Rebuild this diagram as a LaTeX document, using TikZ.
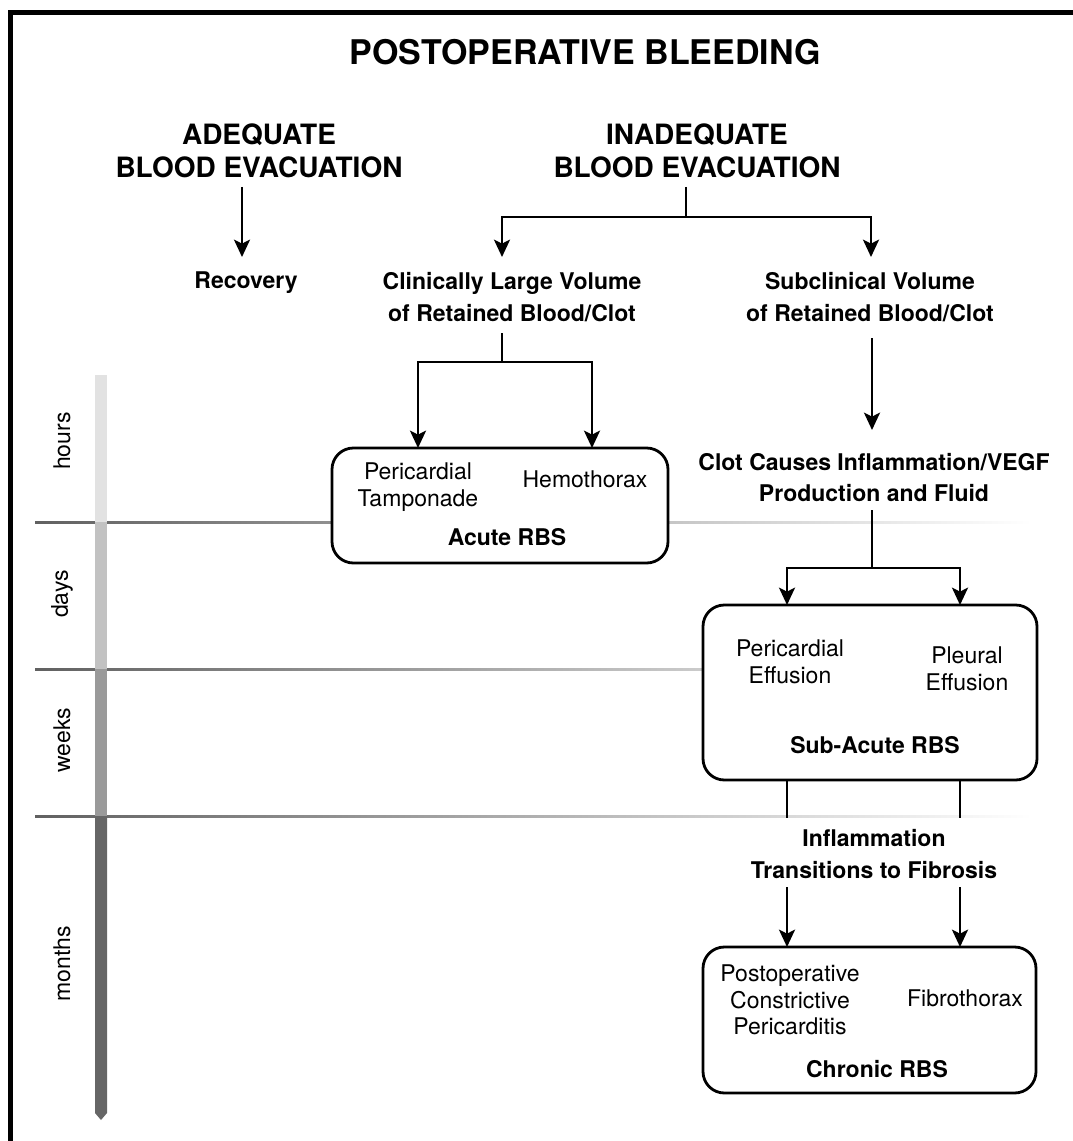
\documentclass[tikz,border=0pt]{standalone}
\usepackage{fontspec}
\setmainfont{TeX Gyre Heros}
\usetikzlibrary{arrows.meta}
\definecolor{tlA}{HTML}{E2E2E2}
\definecolor{tlB}{HTML}{C2C2C2}
\definecolor{tlC}{HTML}{9A9A9A}
\definecolor{tlD}{HTML}{666666}
\begin{document}
\begin{tikzpicture}[x=0.75pt,y=-0.75pt,
  ln/.style={line width=2.1pt},
  arr/.style={line width=2.1pt,-{Stealth[length=13pt,width=12pt,inset=3pt]}},
  rbox/.style={draw,line width=2.1pt,rounded corners=16pt,fill=white,inner sep=0pt},
  reg/.style={font=\fontsize{17.25}{20}\selectfont,align=center,inner sep=0pt},
  bsm/.style={font=\bfseries\fontsize{17.25}{23.5}\selectfont,align=center,inner sep=0pt},
  head/.style={font=\bfseries\fontsize{21}{24.75}\selectfont,align=center,inner sep=0pt},
  tl/.style={font=\fontsize{17.25}{20}\selectfont,rotate=90,inner sep=0pt},
  sep/.style={left color=black!62,right color=white}
]
\useasboundingbox (0,0) rectangle (1073,1141);
% frame (top and left only)
\fill[black] (8,10) rectangle (1073,15);
\fill[black] (8,10) rectangle (13,1141);

% time separators
\shade[sep] (35,521) rectangle (1032,523.4);
\shade[sep] (35,668) rectangle (1032,670.4);
\shade[sep] (35,815) rectangle (1032,817.4);

% timeline bar
\fill[tlA] (95,375) rectangle (107,522);
\fill[tlB] (95,522) rectangle (107,669);
\fill[tlC] (95,669) rectangle (107,816);
\fill[tlD] (95,816) -- (107,816) -- (107,1113) -- (101,1120) -- (95,1113) -- cycle;

\node[tl] (hours) at (62,441) {hours};
\node[tl] (days) at (62,594) {days};
\node[tl] (weeks) at (62,740) {weeks};
\node[tl] (months) at (62,964) {months};

% title and headings
\node[font=\bfseries\fontsize{25.5}{30}\selectfont,inner sep=0pt] (title) at (585,52) {POSTOPERATIVE BLEEDING};
\node[head] (adq) at (259,150.5) {ADEQUATE\\BLOOD EVACUATION};
\node[head] (inadq) at (697,150.5) {INADEQUATE\\BLOOD EVACUATION};
\node[bsm] (rec) at (246,283) {Recovery};
\node[bsm] (clin) at (512,297) {Clinically Large Volume\\of Retained Blood/Clot};
\node[bsm] (subc) at (870,297) {Subclinical Volume\\of Retained Blood/Clot};
\node[bsm] (clot) at (874,477.5) {Clot Causes Inflammation/VEGF\\Production and Fluid};
\node[bsm] (infl) at (874,854) {Inflammation\\Transitions to Fibrosis};

% boxes
\node[rbox,minimum width=252pt,minimum height=86.25pt] (acute) at (500,505.5) {};
\node[rbox,minimum width=250.5pt,minimum height=131.25pt] (subacute) at (870,692.5) {};
\node[rbox,minimum width=249.75pt,minimum height=109.5pt] (chronic) at (869.5,1020) {};

\node[reg] (tamp) at (418,487) {Pericardial\\Tamponade};
\node[reg] (hemo) at (585,479.5) {Hemothorax};
\node[bsm] (acl) at (507,537) {Acute RBS};
\node[reg] (pce) at (790,661.5) {Pericardial\\Effusion};
\node[reg] (ple) at (967,668.5) {Pleural\\Effusion};
\node[bsm] (sal) at (875,745.5) {Sub-Acute RBS};
\node[reg] (pcp) at (790,1000) {Postoperative\\Constrictive\\Pericarditis};
\node[reg] (fib) at (965,998.5) {Fibrothorax};
\node[bsm] (chl) at (877,1069) {Chronic RBS};

% connector points
\coordinate (adqo) at (242,187);
\coordinate (reci) at (242,257);
\coordinate (inao) at (686,187);
\coordinate (inaj) at (686,217);
\coordinate (clini) at (502,257);
\coordinate (subci) at (871,257);
\coordinate (clino) at (502,333);
\coordinate (clinj) at (502,362);
\coordinate (tampi) at (418,448);
\coordinate (hemoi) at (592,448);
\coordinate (subco) at (872,338);
\coordinate (cloti) at (872,430);
\coordinate (cloto) at (872,510);
\coordinate (clotj) at (872,568);
\coordinate (pcei) at (787,605);
\coordinate (plei) at (960,605);
\coordinate (pceo) at (787,780);
\coordinate (pleo) at (960,780);
\coordinate (infl1) at (787,818);
\coordinate (infl2) at (960,818);
\coordinate (inflo1) at (787,887);
\coordinate (inflo2) at (960,887);
\coordinate (pcpi) at (787,947);
\coordinate (fibi) at (960,947);

% connectors
\draw[arr] (adqo) -- (reci);
\draw[ln] (inao) -- (inaj);
\draw[arr] (inaj) -| (clini);
\draw[arr] (inaj) -| (subci);
\draw[ln] (clino) -- (clinj);
\draw[arr] (clinj) -| (tampi);
\draw[arr] (clinj) -| (hemoi);
\draw[arr] (subco) -- (cloti);
\draw[ln] (cloto) -- (clotj);
\draw[arr] (clotj) -| (pcei);
\draw[arr] (clotj) -| (plei);
\draw[ln] (pceo) -- (infl1);
\draw[ln] (pleo) -- (infl2);
\draw[arr] (inflo1) -- (pcpi);
\draw[arr] (inflo2) -- (fibi);
\end{tikzpicture}
\end{document}
